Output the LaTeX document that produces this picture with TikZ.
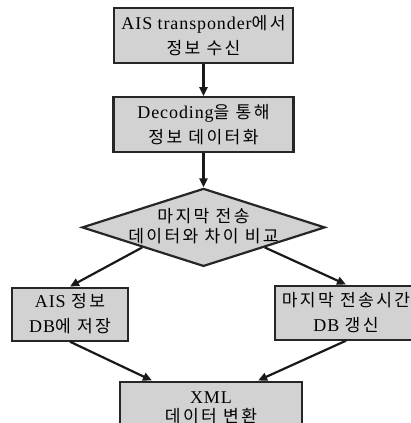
\documentclass[tikz,border=0pt]{standalone}
\usepackage{fontspec}
\setmainfont{Liberation Serif}[LetterSpace=5]
\newfontfamily\kr{Noto Sans CJK KR}[Scale=0.95, LetterSpace=14]
\usetikzlibrary{positioning,shapes.geometric,arrows.meta}
\newcommand{\ko}[1]{{\kr #1}}

\tikzset{
    stepbox/.style={draw=black!85, line width=2.2pt, fill=gray!35, align=center,
        inner sep=0pt, font=\fontsize{18}{25}\selectfont},
    dmd/.style={diamond, draw=black!85, line width=2.2pt, fill=gray!35, inner sep=0pt,
        minimum width=243pt, minimum height=78pt},
    arr/.style={-{Triangle[length=9pt,width=8pt]}, line width=2.2pt, black!90},
}

\begin{document}
\begin{tikzpicture}[x=1pt, y=-1pt]
    \useasboundingbox (0,0) rectangle (411,423);
    \clip (0,0) rectangle (411,423);

    \node [stepbox, minimum width=179pt, minimum height=55pt] (ais) at (203.5,35.5)
        {AIS transponder\ko{에서}\\\ko{정보 수신}};
    \node [stepbox, minimum width=180pt, minimum height=55pt, below=32pt of ais] (dec)
        {Decoding\ko{을 통해}\\\ko{정보 데이터화}};
    \node [dmd, below=34pt of dec] (cmp) {};
    \node [stepbox, draw=none, fill=none, font=\fontsize{18}{20}\selectfont] (cmptxt)
        at ([yshift=1pt]cmp) {\ko{마지막 전송}\\\ko{데이터와 차이 비교}};

    \node [stepbox, minimum width=116pt, minimum height=53pt, below=19pt of cmp, xshift=-133.5pt] (save)
        {AIS \ko{정보}\\DB\ko{에 저장}};
    \node [stepbox, minimum width=142pt, minimum height=54pt, below=17pt of cmp, xshift=142.5pt] (upd)
        {\ko{마지막 전송시간}\\DB \ko{갱신}};
    \node [stepbox, minimum width=182pt, minimum height=52pt, below=113pt of cmp, xshift=7.5pt,
        font=\fontsize{18}{19}\selectfont] (xml)
        {XML\\\ko{데이터 변환}};

    \draw [arr] (ais) -- (dec);
    \draw [arr] (dec) -- (cmp);
    \draw [arr] (cmp.south west) -- (save.north);
    \draw [arr] (cmp.south east) -- (upd.north);
    \draw [arr] (save.south) -- ([xshift=33pt]xml.north west);
    \draw [arr] (upd.south) -- ([xshift=-45pt]xml.north east);
\end{tikzpicture}
\end{document}
